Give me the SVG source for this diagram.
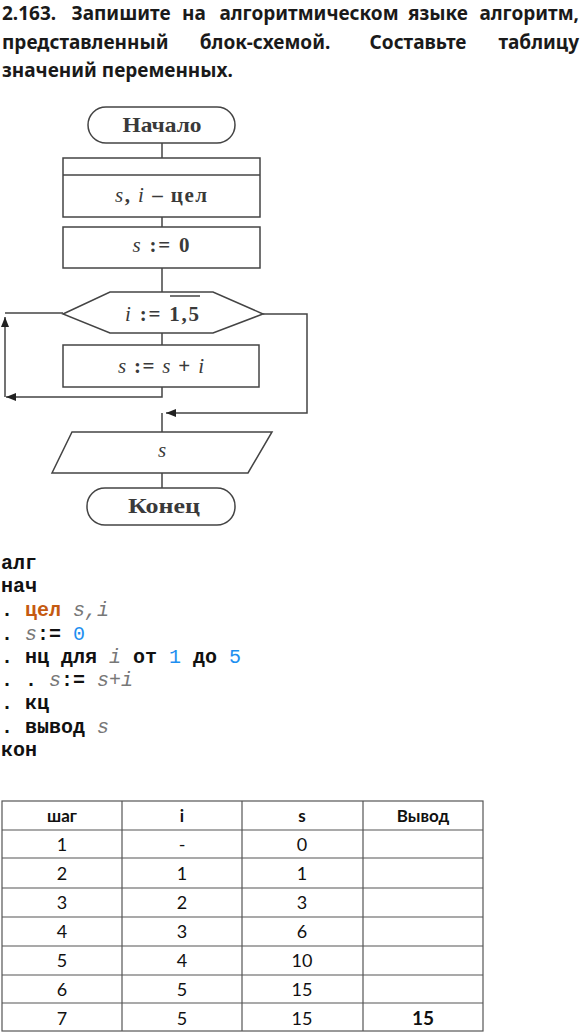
<svg xmlns="http://www.w3.org/2000/svg" width="582" height="1032" viewBox="0 0 582 1032">
<defs>
<style>
.t{font-family:"Noto Sans","Lato","Liberation Sans",sans-serif;font-weight:700;font-size:19px;fill:#1a1a1a}
.m{text-anchor:middle}
.e{text-anchor:end}
.fc{fill:#fff;stroke:#444;stroke-width:1.5}
.fl{fill:none;stroke:#444;stroke-width:1.5}
.ft{font-family:"Liberation Serif","DejaVu Serif",serif;font-size:21px;font-weight:700;fill:#3a3a3a;text-anchor:middle}
.it{font-style:italic;font-weight:400}
.c{font-family:"Liberation Mono","DejaVu Sans Mono",monospace;font-size:20px;font-weight:700;fill:#111}
.cv{font-weight:400;font-style:italic;fill:#777}
.cn{font-weight:400;fill:#1e8ff0}
.ck{fill:#c55a11}
.th{font-family:"Lato","Noto Sans","Liberation Sans",sans-serif;font-weight:700;font-size:17px;fill:#111;text-anchor:middle}
.td{font-family:"Lato","Noto Sans","Liberation Sans",sans-serif;font-size:18px;fill:#111;text-anchor:middle}
.grid{stroke:#555;stroke-width:1.2;fill:none}
</style>
<marker id="ah" markerWidth="10" markerHeight="8" refX="10" refY="4" orient="auto" markerUnits="userSpaceOnUse">
<path d="M0,0 L10,4 L0,8 z" fill="#222"/>
</marker>
</defs>
<rect width="582" height="1032" fill="#fff"/>

<g id="title">
<text class="t" x="2" y="20">2.163.</text>
<text class="t m" x="121" y="20">Запишите</text>
<text class="t m" x="194" y="20">на</text>
<text class="t m" x="309" y="20">алгоритмическом</text>
<text class="t m" x="438" y="20">языке</text>
<text class="t e" x="579" y="20">алгоритм,</text>
<text class="t" x="2" y="49">представленный</text>
<text class="t m" x="265" y="49">блок-схемой.</text>
<text class="t m" x="418" y="49">Составьте</text>
<text class="t e" x="579" y="49">таблицу</text>
<text class="t" x="2" y="77">значений переменных.</text>
</g>

<g id="connectors">
<line class="fl" x1="162" y1="143" x2="162" y2="158"/>
<line class="fl" x1="162" y1="217" x2="162" y2="227"/>
<line class="fl" x1="162" y1="268" x2="162" y2="292"/>
<line class="fl" x1="162" y1="333" x2="162" y2="345"/>
<path class="fl" d="M162,387 V397 H6" marker-end="url(#ah)"/>
<path class="fl" d="M5,397 V317" marker-end="url(#ah)"/>
<path class="fl" d="M5,313 H63"/>
<path class="fl" d="M263,314 H307 V413 H166" marker-end="url(#ah)"/>
<path class="fl" d="M162,413 V432"/>
<line class="fl" x1="162" y1="473" x2="162" y2="488"/>
</g>

<g id="start">
<rect class="fc" x="88" y="107" width="147" height="36" rx="18"/>
<text class="ft" x="162" y="132" textLength="79" lengthAdjust="spacingAndGlyphs">Начало</text>
</g>
<g id="decl">
<rect class="fc" x="63" y="158" width="197" height="59"/>
<line class="fl" x1="63" y1="175" x2="260" y2="175"/>
<text class="ft" x="161" y="202" textLength="92" lengthAdjust="spacing"><tspan class="it">s</tspan>, <tspan class="it">i</tspan> – цел</text>
</g>
<g id="init">
<rect class="fc" x="63" y="227" width="197" height="41"/>
<text class="ft" x="161" y="252" textLength="57" lengthAdjust="spacing"><tspan class="it">s</tspan> := 0</text>
</g>
<g id="loop">
<polygon class="fc" points="63,314 110,292 213,292 263,314 213,333 110,333"/>
<text class="ft" x="162" y="321" textLength="74" lengthAdjust="spacing"><tspan class="it">i</tspan> := 1,5</text>
<line class="fl" x1="170" y1="296" x2="200" y2="296"/>
</g>
<g id="body">
<rect class="fc" x="63" y="345" width="196" height="42"/>
<text class="ft" x="161" y="373" textLength="86" lengthAdjust="spacing"><tspan class="it">s</tspan> := <tspan class="it">s</tspan> + <tspan class="it">i</tspan></text>
</g>
<g id="output">
<polygon class="fc" points="72,432 272,432 248,473 52,473"/>
<text class="ft it" x="162" y="457">s</text>
</g>
<g id="end">
<rect class="fc" x="87" y="488" width="148" height="37" rx="18"/>
<text class="ft" x="164" y="513" textLength="72" lengthAdjust="spacingAndGlyphs">Конец</text>
</g>

<g id="code">
<text class="c" x="1" y="569">алг</text>
<text class="c" x="1" y="592">нач</text>
<text class="c" y="616"><tspan x="1">.</tspan><tspan class="ck" x="25">цел</tspan><tspan class="cv" x="73">s,i</tspan></text>
<text class="c" y="640"><tspan x="1">.</tspan><tspan class="cv" x="25">s</tspan><tspan x="37">:=</tspan><tspan class="cn" x="73">0</tspan></text>
<text class="c" y="663"><tspan x="1">.</tspan><tspan x="25">нц</tspan><tspan x="61">для</tspan><tspan class="cv" x="109">i</tspan><tspan x="133">от</tspan><tspan class="cn" x="169">1</tspan><tspan x="193">до</tspan><tspan class="cn" x="229">5</tspan></text>
<text class="c" y="686"><tspan x="1">.</tspan><tspan x="25">.</tspan><tspan class="cv" x="49">s</tspan><tspan x="61">:=</tspan><tspan class="cv" x="97">s+i</tspan></text>
<text class="c" y="709"><tspan x="1">.</tspan><tspan x="25">кц</tspan></text>
<text class="c" y="733"><tspan x="1">.</tspan><tspan x="25">вывод</tspan><tspan class="cv" x="97">s</tspan></text>
<text class="c" x="1" y="756">кон</text>
</g>

<g id="table">
<rect class="grid" x="2" y="801" width="481" height="230"/>
<line class="grid" x1="122" y1="801" x2="122" y2="1031"/>
<line class="grid" x1="242" y1="801" x2="242" y2="1031"/>
<line class="grid" x1="363" y1="801" x2="363" y2="1031"/>
<line class="grid" x1="2" y1="830" x2="483" y2="830"/>
<line class="grid" x1="2" y1="858" x2="483" y2="858"/>
<line class="grid" x1="2" y1="888" x2="483" y2="888"/>
<line class="grid" x1="2" y1="917" x2="483" y2="917"/>
<line class="grid" x1="2" y1="946" x2="483" y2="946"/>
<line class="grid" x1="2" y1="975" x2="483" y2="975"/>
<line class="grid" x1="2" y1="1003" x2="483" y2="1003"/>
<text class="th" x="62" y="822">шаг</text>
<text class="th" x="182" y="822">i</text>
<text class="th" x="302" y="822">s</text>
<text class="th" x="423" y="822">Вывод</text>
<text class="td" x="62" y="851">1</text><text class="td" x="182" y="851">-</text><text class="td" x="302" y="851">0</text>
<text class="td" x="62" y="880">2</text><text class="td" x="182" y="880">1</text><text class="td" x="302" y="880">1</text>
<text class="td" x="62" y="909">3</text><text class="td" x="182" y="909">2</text><text class="td" x="302" y="909">3</text>
<text class="td" x="62" y="938">4</text><text class="td" x="182" y="938">3</text><text class="td" x="302" y="938">6</text>
<text class="td" x="62" y="967">5</text><text class="td" x="182" y="967">4</text><text class="td" x="302" y="967">10</text>
<text class="td" x="62" y="996">6</text><text class="td" x="182" y="996">5</text><text class="td" x="302" y="996">15</text>
<text class="td" x="62" y="1025">7</text><text class="td" x="182" y="1025">5</text><text class="td" x="302" y="1025">15</text>
<text class="th" x="423" y="1025" style="font-size:19px">15</text>
</g>
</svg>
